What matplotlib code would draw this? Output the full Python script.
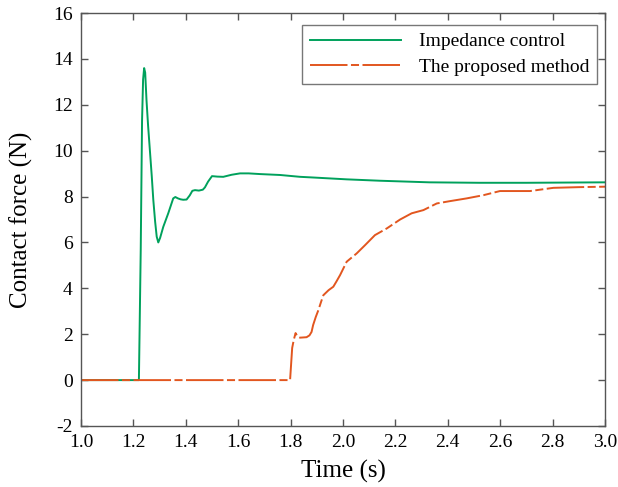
import matplotlib
matplotlib.use("Agg")
import matplotlib.pyplot as plt

# ---- data ----
t_imp = [1.0, 1.221, 1.228, 1.233, 1.237, 1.241, 1.245, 1.25, 1.256, 1.263, 1.27,
         1.276, 1.283, 1.289, 1.295, 1.302, 1.314, 1.333, 1.352, 1.36, 1.37, 1.38,
         1.39, 1.403, 1.415, 1.425, 1.435, 1.45, 1.465, 1.473, 1.485, 1.50, 1.52,
         1.543, 1.575, 1.607, 1.64, 1.683, 1.76, 1.836, 1.887, 2.014, 2.14, 2.33,
         2.52, 2.7, 2.85, 3.0]
f_imp = [0.0, 0.0, 5.7, 11.3, 13.1, 13.6, 13.4, 12.2, 11.1, 10.0, 8.9,
         7.85, 6.9, 6.25, 6.0, 6.2, 6.68, 7.27, 7.92, 7.98, 7.92, 7.88,
         7.86, 7.87, 8.05, 8.25, 8.28, 8.26, 8.3, 8.4, 8.65, 8.89, 8.87,
         8.86, 8.95, 9.01, 9.01, 8.98, 8.94, 8.86, 8.83, 8.75, 8.69, 8.62,
         8.6, 8.6, 8.61, 8.62]

t_pro = [1.0, 1.798, 1.806, 1.812, 1.819, 1.826, 1.836, 1.861, 1.872, 1.88, 1.886,
         1.896, 1.906, 1.916, 1.925, 1.945, 1.963, 1.975, 1.989, 2.014, 2.052,
         2.084, 2.122, 2.167, 2.218, 2.262, 2.307, 2.358, 2.408, 2.472, 2.536,
         2.599, 2.65, 2.714, 2.803, 2.9, 3.0]
f_pro = [0.0, 0.0, 1.4, 1.75, 2.05, 1.9, 1.85, 1.87, 1.95, 2.1, 2.4,
         2.75, 3.05, 3.4, 3.7, 3.92, 4.07, 4.3, 4.58, 5.16, 5.52,
         5.88, 6.32, 6.61, 7.0, 7.27, 7.41, 7.7, 7.8, 7.92, 8.06,
         8.24, 8.24, 8.24, 8.38, 8.41, 8.43]

labels = ["Impedance control", "The proposed method"]
xticks = [1.0, 1.2, 1.4, 1.6, 1.8, 2.0, 2.2, 2.4, 2.6, 2.8, 3.0]
yticks = [-2, 0, 2, 4, 6, 8, 10, 12, 14, 16]

# ---- style ----
plt.rcParams['font.family'] = ['Liberation Serif', 'DejaVu Serif']
plt.rcParams['lines.scale_dashes'] = False

fig = plt.figure(figsize=(6.18, 4.87), dpi=100)
ax = fig.add_axes([81/618, 1-426/487, (605-81)/618, (426-13)/487])

green = '#00a15c'
orange = '#e2561f'
ax.plot(t_imp, f_imp, color=green, lw=1.4, label=labels[0])
ax.plot(t_pro, f_pro, color=orange, lw=1.4, dashes=(27, 2.5, 5.8, 2.5),
        label=labels[1])

ax.set_xlim(1.0, 3.0)
ax.set_ylim(-2, 16)
ax.set_xticks(xticks)
ax.set_xticklabels([f"{v:.1f}" for v in xticks])
ax.set_yticks(yticks)
ax.set_yticklabels([str(v) for v in yticks])

spine_col = '#555555'
for s in ax.spines.values():
    s.set_color(spine_col)
    s.set_linewidth(1.0)
ax.tick_params(direction='in', length=5, width=1.0, color=spine_col,
               top=True, right=True, labelsize=14)
ax.tick_params(axis='x', pad=6)
ax.tick_params(axis='y', pad=6)

ax.set_xlabel("Time (s)", fontsize=18, labelpad=6)
ax.set_ylabel("Contact force (N)", fontsize=18, labelpad=14)

leg = ax.legend(loc='upper right', bbox_to_anchor=(597/618, 1-25/487),
                bbox_transform=fig.transFigure, fontsize=14, frameon=True,
                fancybox=False, handlelength=4.7, handletextpad=0.9,
                borderpad=0.4, labelspacing=0.4, borderaxespad=0)
leg.get_frame().set_edgecolor(spine_col)
leg.get_frame().set_linewidth(1.0)

fig.savefig("out.png", dpi=100)
